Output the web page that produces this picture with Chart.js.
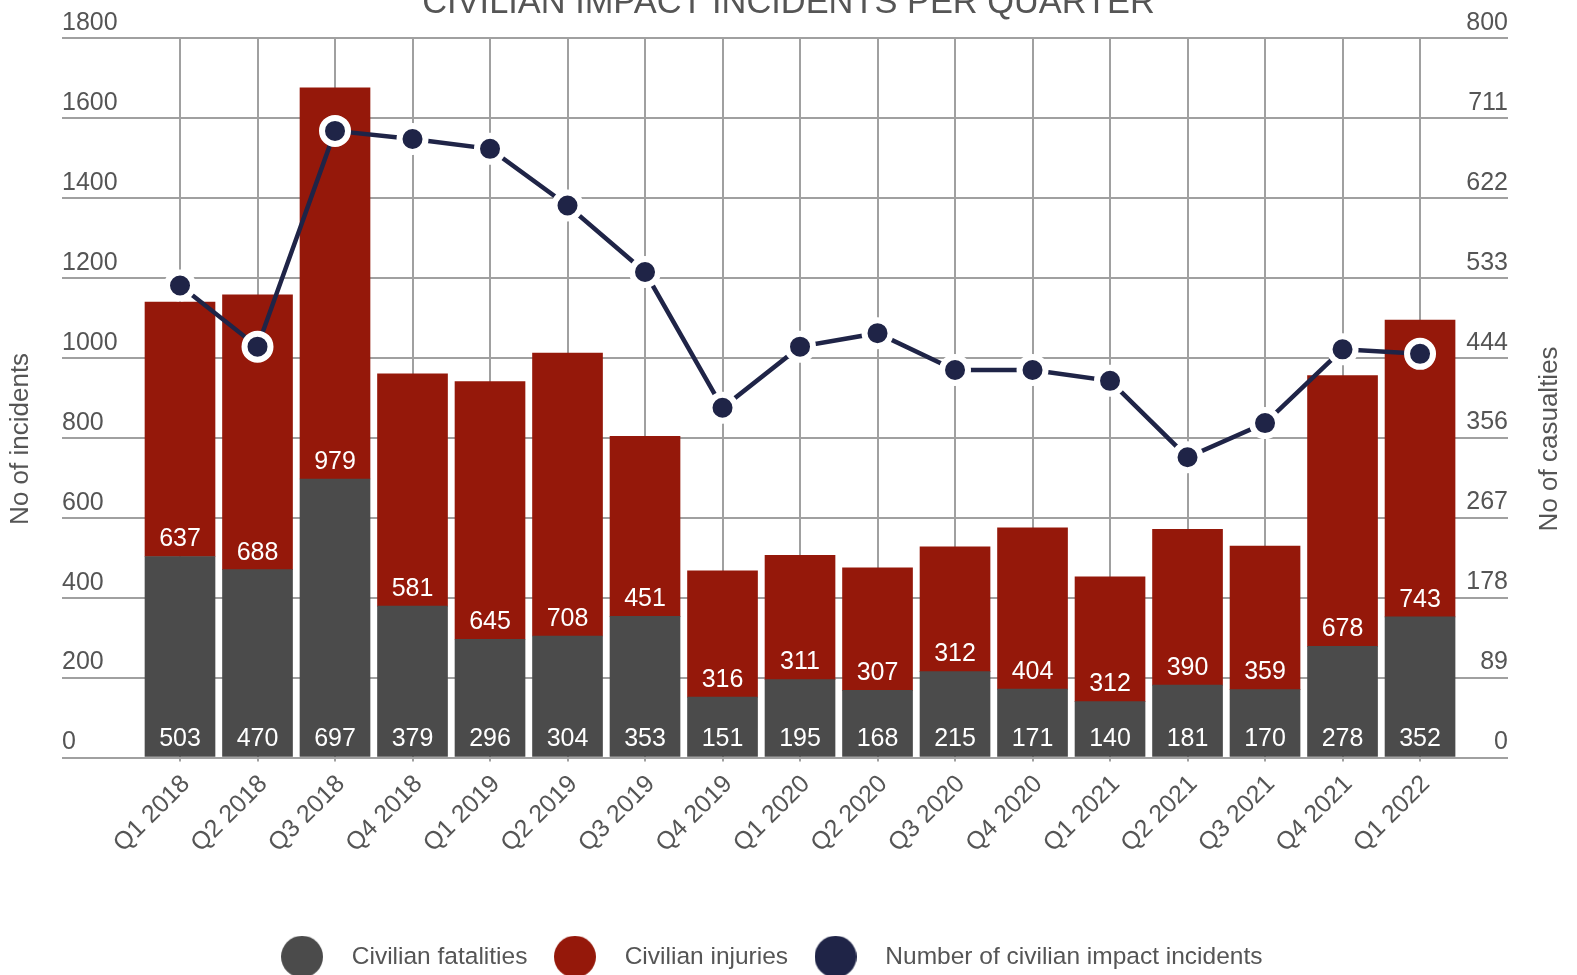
<!DOCTYPE html>
<html lang="en">
<head>
  <meta charset="UTF-8">
  <title>Civilian impact incidents per quarter</title>
  <script src="https://cdn.jsdelivr.net/npm/chart.js"></script>
  <style>
    html, body { margin: 0; padding: 0; background: #fff; }
    #wrap { width: 1577px; height: 975px; }
  </style>
</head>
<body>
  <div id="wrap"><canvas id="incidentChart"></canvas></div>

  <script>
    const quarters = ['Q1 2018', 'Q2 2018', 'Q3 2018', 'Q4 2018', 'Q1 2019', 'Q2 2019', 'Q3 2019', 'Q4 2019',
      'Q1 2020', 'Q2 2020', 'Q3 2020', 'Q4 2020', 'Q1 2021', 'Q2 2021', 'Q3 2021', 'Q4 2021', 'Q1 2022'];
    const fatalities = [503, 470, 697, 379, 296, 304, 353, 151, 195, 168, 215, 171, 140, 181, 170, 278, 352];
    const injuries = [637, 688, 979, 581, 645, 708, 451, 316, 311, 307, 312, 404, 312, 390, 359, 678, 743];
    // line
    const incidents = [525, 457, 697, 688, 677, 614, 540, 389, 457, 472, 431, 431, 419, 334, 372, 454, 449];
    const rightTicks = [0, 89, 178, 267, 356, 444, 533, 622, 711, 800];

    const FONT = '"Liberation Sans", Arial, sans-serif';
    const GREY = '#4b4b4b';
    const RED = '#95180a';
    const NAVY = '#1f2447';
    const TEXT = '#555555';
    const GRID = '#a0a0a0';

    // big round legend markers
    function dot(color) {
      const c = document.createElement('canvas');
      c.width = 42; c.height = 42;
      const g = c.getContext('2d');
      g.fillStyle = color;
      g.beginPath();
      g.arc(21, 21, 21, 0, Math.PI * 2);
      g.fill();
      return c;
    }

    // white value labels sitting at the foot of each bar segment
    const barValues = {
      id: 'barValues',
      afterDatasetsDraw(chart) {
        const ctx = chart.ctx;
        ctx.save();
        ctx.font = '25px ' + FONT;
        ctx.fillStyle = '#ffffff';
        ctx.textAlign = 'center';
        ctx.textBaseline = 'middle';
        chart.data.datasets.forEach((ds, di) => {
          if (ds.type !== 'bar') return;
          chart.getDatasetMeta(di).data.forEach((bar, i) => {
            ctx.fillText(String(ds.data[i].y), bar.x, bar.base - 17);
          });
        });
        ctx.restore();
      }
    };

    // axis titles, centred a little lower than the plot area;
    // the legend also sits a bit left of centre in the original
    const axisTitles = {
      id: 'axisTitles',
      afterLayout(chart) {
        chart.legend.left -= 25;
        chart.legend.right -= 25;
      },
      afterDraw(chart) {
        const { ctx, chartArea } = chart;
        const midY = (chartArea.top + chartArea.bottom) / 2 + 41;
        [['No of incidents', 21], ['No of casualties', 1550]].forEach(([txt, x]) => {
          ctx.save();
          ctx.font = '26px ' + FONT;
          ctx.fillStyle = TEXT;
          ctx.textAlign = 'center';
          ctx.textBaseline = 'middle';
          ctx.translate(x, midY);
          ctx.rotate(-Math.PI / 2);
          ctx.fillText(txt, 0, 0);
          ctx.restore();
        });
      }
    };

    const toPoints = arr => arr.map((v, i) => ({ x: i, y: v }));

    const ctx = document.getElementById('incidentChart').getContext('2d');
    new Chart(ctx, {
      data: {
        datasets: [
          {
            type: 'bar',
            label: 'Civilian fatalities',
            data: toPoints(fatalities),
            backgroundColor: GREY,
            barThickness: 70,
            yAxisID: 'y',
            order: 1,
            legendColor: GREY,
          },
          {
            type: 'bar',
            label: 'Civilian injuries',
            data: toPoints(injuries),
            backgroundColor: RED,
            barThickness: 70,
            yAxisID: 'y',
            order: 1,
            legendColor: RED,
          },
          {
            type: 'line',
            label: 'Number of civilian impact incidents',
            data: toPoints(incidents),
            borderColor: NAVY,
            borderWidth: 4.5,
            pointRadius: 13,
            pointBorderWidth: 6,
            pointBackgroundColor: NAVY,
            pointBorderColor: '#ffffff',
            tension: 0,
            yAxisID: 'y1',
            order: 0,
            clip: false,
            legendColor: NAVY,
          },
        ],
      },
      options: {
        responsive: true,
        maintainAspectRatio: false,
        animation: false,
        layout: { padding: { top: 0, left: 0, right: 0, bottom: -4 } },
        scales: {
          x: {
            type: 'linear',
            stacked: true,
            offset: false,
            min: -1.5226,
            max: 17.135,
            afterBuildTicks: scale => { scale.ticks = quarters.map((q, i) => ({ value: i })); },
            afterFit: scale => { scale.height = 177; },
            grid: { color: GRID, lineWidth: 2, tickLength: 4, drawTicks: true, offset: false },
            border: { display: false },
            ticks: {
              autoSkip: false,
              minRotation: 45,
              maxRotation: 45,
              padding: 8,
              labelOffset: 6,
              color: TEXT,
              font: { family: FONT, size: 25 },
              callback: value => quarters[value],
            },
          },
          y: {
            position: 'left',
            stacked: true,
            min: 0,
            max: 1800,
            afterFit: scale => { scale.width = 62; },
            grid: { color: GRID, lineWidth: 2, drawTicks: false },
            border: { display: false },
            ticks: {
              stepSize: 200,
              mirror: true,
              padding: 0,
              labelOffset: -15,
              color: TEXT,
              font: { family: FONT, size: 25 },
              callback: value => String(value),
            },
          },
          y1: {
            position: 'right',
            min: 0,
            max: 800,
            afterBuildTicks: scale => { scale.ticks = rightTicks.map(v => ({ value: v })); },
            afterFit: scale => { scale.width = 69; },
            grid: { display: false },
            border: { display: false },
            ticks: {
              mirror: true,
              padding: 0,
              labelOffset: -15,
              color: TEXT,
              font: { family: FONT, size: 25 },
              callback: value => String(value),
            },
          },
        },
        plugins: {
          title: {
            display: true,
            text: 'CIVILIAN IMPACT INCIDENTS PER QUARTER',
            color: TEXT,
            font: { family: FONT, size: 34.4, weight: 'normal' },
            padding: { top: -17, bottom: 14 },
          },
          legend: {
            position: 'bottom',
            labels: {
              usePointStyle: true,
              pointStyleWidth: 75,
              padding: 10,
              color: TEXT,
              font: { family: FONT, size: 24.5 },
              generateLabels: chart => chart.data.datasets.map((ds, i) => ({
                text: ds.label,
                fillStyle: ds.legendColor,
                strokeStyle: ds.legendColor,
                lineWidth: 0,
                pointStyle: dot(ds.legendColor),
                fontColor: TEXT,
                hidden: false,
                datasetIndex: i,
              })),
            },
          },
          tooltip: { enabled: false },
        },
      },
      plugins: [barValues, axisTitles],
    });
  </script>
</body>
</html>
